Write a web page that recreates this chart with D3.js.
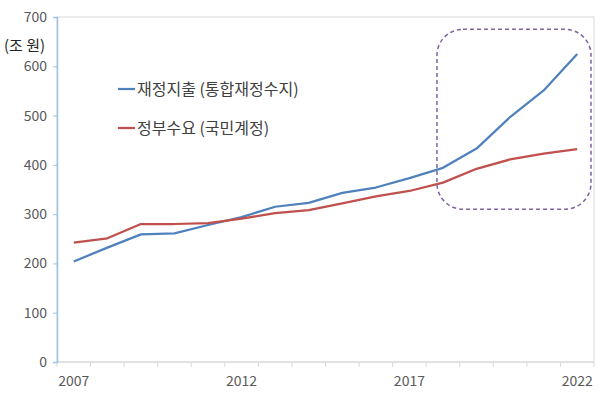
<!DOCTYPE html>
<html>
<head>
<meta charset="utf-8">
<script src="https://cdn.jsdelivr.net/npm/d3@7"></script>
<style>
  body { margin: 0; background: #fff; }
  svg { display: block; font-family: "Noto Sans CJK KR", "Noto Sans", sans-serif; }
</style>
</head>
<body>
<div id="chart"></div>
<script>
var years = ["2007", "2008", "2009", "2010", "2011", "2012", "2013", "2014",
  "2015", "2016", "2017", "2018", "2019", "2020", "2021", "2022"];
var spending = [204, 232, 259, 261, 278, 294, 315, 323, 343, 354, 373, 394, 433, 497, 551, 625];
var demand = [242, 251, 280, 280, 282, 291, 302, 308, 322, 336, 347, 364, 392, 411, 423, 432];
var yTicks = [0, 100, 200, 300, 400, 500, 600, 700];
var xLabels = ["2007", "2012", "2017", "2022"];
var seriesNames = ["재정지출 (통합재정수지)", "정부수요 (국민계정)"];
var highlight = ["2018", "2022"];

var width = 606;
var height = 395;
var plotLeft = 57, plotRight = 594, plotTop = 17, plotBottom = 362;

var svg = d3.select("#chart").append("svg")
  .attr("width", width)
  .attr("height", height);

var x = d3.scaleBand().domain(years).range([plotLeft, plotRight]);
var y = d3.scaleLinear().domain([0, 700]).range([plotBottom, plotTop]);

// plot area border
svg.append("rect")
  .attr("x", plotLeft).attr("y", plotTop)
  .attr("width", plotRight - plotLeft).attr("height", plotBottom - plotTop)
  .attr("fill", "none")
  .attr("stroke", "#d9d9d9")
  .attr("stroke-width", 1);

// x axis
var xAxis = svg.append("g")
  .attr("transform", "translate(0," + plotBottom + ")");
xAxis.append("line")
  .attr("x1", plotLeft).attr("x2", plotRight)
  .attr("stroke", "#d9d9d9");
var bounds = years.map(function (d) { return x(d); }).concat([plotRight]);
xAxis.selectAll(".tick")
  .data(bounds)
  .enter().append("line")
  .attr("x1", function (d) { return d; })
  .attr("x2", function (d) { return d; })
  .attr("y1", 0).attr("y2", 5)
  .attr("stroke", "#d9d9d9");
xAxis.selectAll("text")
  .data(xLabels)
  .enter().append("text")
  .attr("x", function (d) { return x(d) + x.bandwidth() / 2; })
  .attr("y", 24)
  .attr("text-anchor", "middle")
  .attr("fill", "#595959")
  .style("font-size", "14px")
  .text(function (d) { return d; });

// y axis
var yAxis = svg.append("g")
  .attr("transform", "translate(" + plotLeft + ",0)")
  .call(d3.axisLeft(y).tickValues(yTicks).tickSize(4).tickPadding(6));
yAxis.select(".domain").attr("stroke", "#9dc3e6").attr("stroke-width", 1.5);
yAxis.selectAll(".tick line").attr("stroke", "#9dc3e6");
yAxis.selectAll(".tick text")
  .attr("fill", "#595959")
  .style("font-size", "14px")
  .style("font-family", "'Noto Sans CJK KR', sans-serif");

svg.append("text")
  .attr("x", 4).attr("y", 51)
  .attr("fill", "#262626")
  .style("font-size", "15px")
  .text("(조 원)");

// dashed highlight box
var bx0 = x(highlight[0]) + x.bandwidth() / 2 - 6;
var bx1 = x(highlight[1]) + x.bandwidth() - 3;
svg.append("rect")
  .attr("x", bx0).attr("y", y(675))
  .attr("width", bx1 - bx0).attr("height", y(310) - y(675))
  .attr("rx", 26).attr("ry", 26)
  .attr("fill", "none")
  .attr("stroke", "#8064a2")
  .attr("stroke-width", 1.5)
  .attr("stroke-dasharray", "4,3");

// lines
var colors = ["#4f81bd", "#c0504d"];
var line = d3.line()
  .x(function (d, i) { return x(years[i]) + x.bandwidth() / 2; })
  .y(function (d) { return y(d); });

[spending, demand].forEach(function (s, i) {
  svg.append("path")
    .datum(s)
    .attr("d", line)
    .attr("fill", "none")
    .attr("stroke", colors[i])
    .attr("stroke-width", 2.25)
    .attr("stroke-linejoin", "round");
});

// legend
var legend = svg.append("g");
seriesNames.forEach(function (name, i) {
  var ly = 89 + i * 39;
  legend.append("line")
    .attr("x1", 118).attr("x2", 135)
    .attr("y1", ly).attr("y2", ly)
    .attr("stroke", colors[i])
    .attr("stroke-width", 2.25);
  legend.append("text")
    .attr("x", 137).attr("y", ly + 5.5)
    .attr("fill", "#404040")
    .style("font-size", "16px")
    .text(name);
});
</script>
</body>
</html>
